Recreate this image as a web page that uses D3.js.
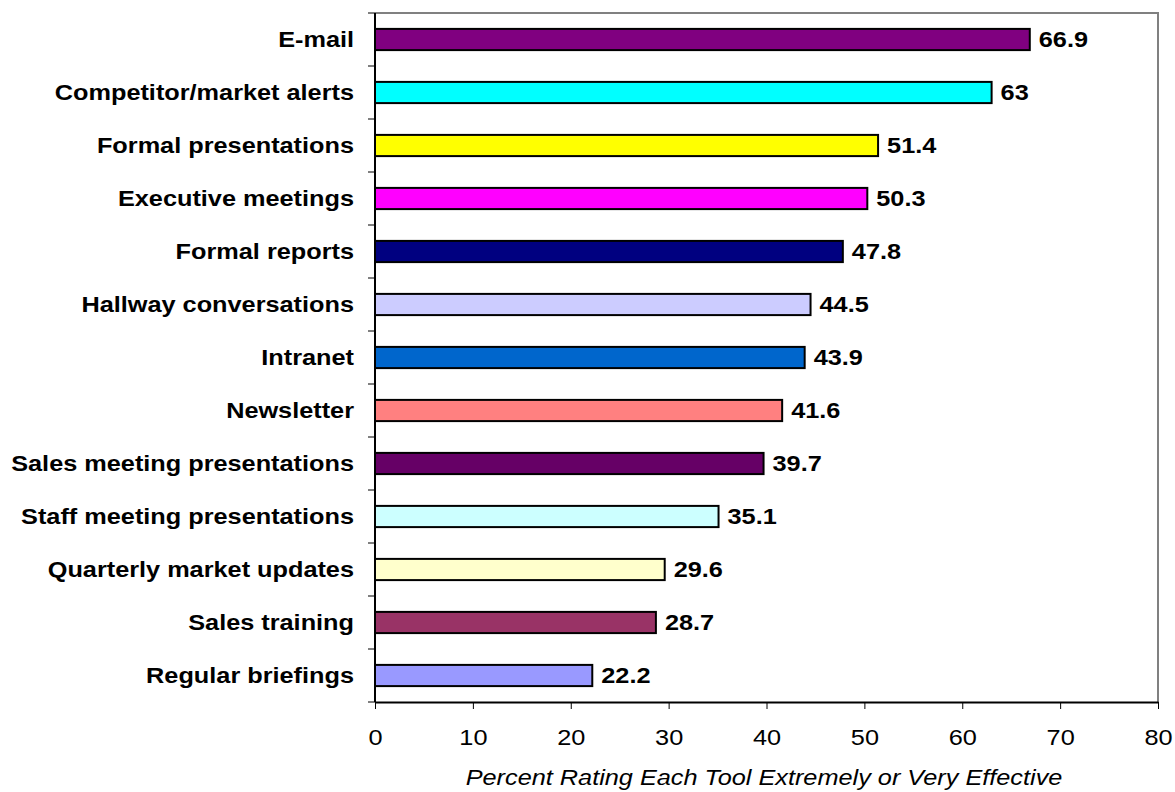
<!DOCTYPE html>
<html>
<head>
<meta charset="utf-8">
<script src="https://cdn.jsdelivr.net/npm/d3@7"></script>
<style>
  html, body { margin: 0; padding: 0; background: #fff; }
  svg { display: block; }
  text { font-family: "Liberation Sans", Arial, sans-serif; fill: #000; }
</style>
</head>
<body>
<svg id="chart" width="1175" height="792"></svg>
<script>
// Communication tools, top to bottom
const categories = [
  "E-mail", "Competitor/market alerts", "Formal presentations", "Executive meetings",
  "Formal reports", "Hallway conversations", "Intranet", "Newsletter",
  "Sales meeting presentations", "Staff meeting presentations",
  "Quarterly market updates", "Sales training", "Regular briefings"
];
const values = [66.9, 63, 51.4, 50.3, 47.8, 44.5, 43.9, 41.6, 39.7, 35.1, 29.6, 28.7, 22.2];
const barColors = [
  "#800080", "#00FFFF", "#FFFF00", "#FF00FF", "#000080", "#CCCCFF", "#0066CC",
  "#FF8080", "#660066", "#CCFFFF", "#FFFFCC", "#993366", "#9999FF"
];
const xTicks = [0, 10, 20, 30, 40, 50, 60, 70, 80];
const xTitle = "Percent Rating Each Tool Extremely or Very Effective";

const margin = { top: 13, right: 17, bottom: 90, left: 375 };
const W = 1175, H = 792;
const iw = W - margin.left - margin.right;
const ih = H - margin.top - margin.bottom;
const FS = 22;          // font size
const SX = 1.15;        // horizontal text stretch

const svg = d3.select("#chart");
const g = svg.append("g").attr("transform", `translate(${margin.left},${margin.top})`);

const x = d3.scaleLinear().domain([0, 80]).range([0, iw]);
const y = d3.scaleBand().domain(categories).range([0, ih]).paddingInner(0.6).paddingOuter(0.3);
const band = d3.scaleBand().domain(categories).range([0, ih]);

// plot frame (top and right in gray)
g.append("path")
  .attr("d", `M0,0H${iw}V${ih}`)
  .attr("fill", "none").attr("stroke", "#808080").attr("stroke-width", 2);

// bars
const rows = categories.map((c, i) => ({ c, v: values[i], col: barColors[i] }));
g.selectAll("rect.bar").data(rows).join("rect")
  .attr("class", "bar")
  .attr("x", x(0))
  .attr("y", d => y(d.c))
  .attr("width", d => x(d.v) - x(0))
  .attr("height", y.bandwidth())
  .attr("fill", d => d.col)
  .attr("stroke", "#000").attr("stroke-width", 2);

// value labels
g.selectAll("text.val").data(rows).join("text")
  .attr("class", "val")
  .attr("transform", d => `translate(${x(d.v) + 9},${y(d.c) + y.bandwidth() / 2}) scale(${SX},1)`)
  .attr("dy", "0.36em")
  .attr("font-size", FS).attr("font-weight", "bold")
  .text(d => d.v);

// left axis: ticks at band boundaries
const leftAxis = g.append("g");
leftAxis.append("line").attr("x1", 0).attr("x2", 0).attr("y1", 0).attr("y2", ih)
  .attr("stroke", "#000").attr("stroke-width", 2);
const bounds = categories.map(c => band(c)).concat([ih]);
leftAxis.selectAll("line.tk").data(bounds).join("line")
  .attr("class", "tk")
  .attr("x1", -7).attr("x2", 0)
  .attr("y1", d => d).attr("y2", d => d)
  .attr("stroke", "#000").attr("stroke-width", 1);
leftAxis.selectAll("text.cat").data(categories).join("text")
  .attr("class", "cat")
  .attr("transform", d => `translate(-21,${band(d) + band.bandwidth() / 2}) scale(${SX},1)`)
  .attr("dy", "0.36em")
  .attr("text-anchor", "end")
  .attr("font-size", FS).attr("font-weight", "bold")
  .text(d => d);

// bottom axis
const xAxis = d3.axisBottom(x).tickValues(xTicks).tickSize(7).tickSizeOuter(0).tickPadding(10);
const ax = g.append("g").attr("transform", `translate(0,${ih})`).call(xAxis);
ax.select(".domain").attr("stroke", "#000").attr("stroke-width", 2);
ax.selectAll(".tick line").attr("stroke", "#000");
ax.selectAll(".tick text")
  .attr("y", 43).attr("dy", null)
  .attr("transform", `scale(${SX},1)`)
  .attr("font-size", FS).attr("font-family", "Liberation Sans, Arial, sans-serif").attr("fill", "#000");

// axis title
g.append("text")
  .attr("transform", `translate(${764 - margin.left},${ih + 83}) scale(${SX},1)`)
  .attr("text-anchor", "middle")
  .attr("font-size", FS).attr("font-style", "italic")
  .text(xTitle);
</script>
</body>
</html>
